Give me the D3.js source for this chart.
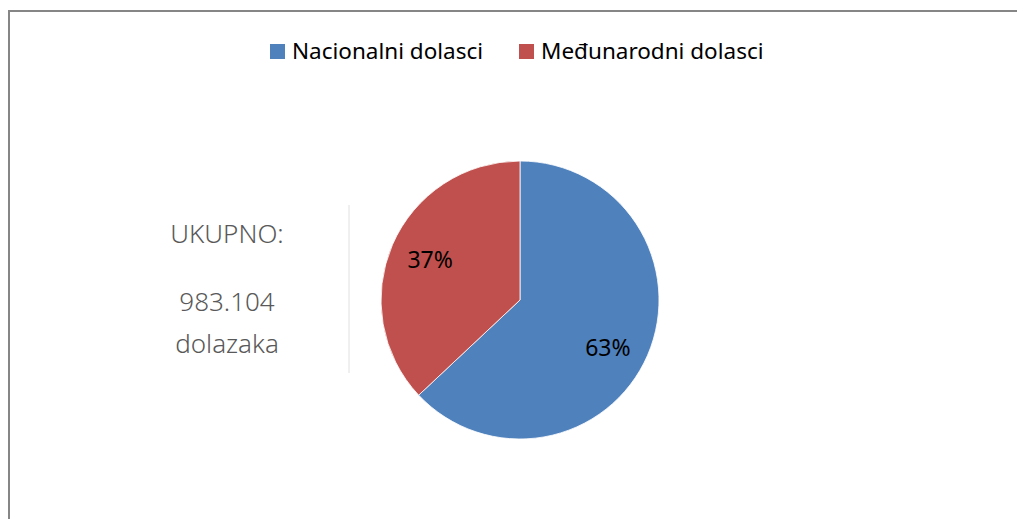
<!DOCTYPE html>
<html lang="hr">
<head>
    <meta charset="UTF-8">
    <title>Dolasci</title>
    <script src="https://cdn.jsdelivr.net/npm/d3@7/dist/d3.min.js"></script>
    <style>
        body { margin: 0; background: #fff; }
        svg text { font-family: "Noto Sans", "Open Sans", sans-serif; }
    </style>
</head>
<body>
<script>
    // podaci
    let kategorije = ['Nacionalni dolasci', 'Međunarodni dolasci'];
    let udjeli = [63, 37];
    let boje = ['#4f81bd', '#c0504d'];
    let ukupnoLinije = ['UKUPNO:', '983.104', 'dolazaka'];

    let width = 1017, height = 519;

    let svg = d3.select('body').append('svg')
        .attr('width', width)
        .attr('height', height);

    // okvir grafikona (desni i donji rub izlaze iz slike)
    svg.append('rect')
        .attr('x', 9)
        .attr('y', 11)
        .attr('width', width + 20)
        .attr('height', height + 20)
        .attr('fill', 'none')
        .attr('stroke', '#868686')
        .attr('stroke-width', 2);

    // legenda
    let legendX = [270, 519];
    let legend = svg.selectAll('g.legend')
        .data(kategorije)
        .enter().append('g')
        .attr('class', 'legend')
        .attr('transform', (d, i) => 'translate(' + legendX[i] + ',44)');
    legend.append('rect')
        .attr('width', 15).attr('height', 15)
        .attr('fill', (d, i) => boje[i]);
    legend.append('text')
        .attr('x', 22).attr('y', 15)
        .attr('font-size', 22.5)
        .attr('fill', '#000')
        .text(d => d);

    // pita
    let cx = 520, cy = 300, r = 139;
    let pie = d3.pie().sort(null).value(d => d);
    let arc = d3.arc().innerRadius(0).outerRadius(r);
    let labelArc = d3.arc().innerRadius(r * 0.72).outerRadius(r * 0.72);

    let g = svg.append('g').attr('transform', 'translate(' + cx + ',' + cy + ')');
    let slices = g.selectAll('g.slice')
        .data(pie(udjeli))
        .enter().append('g')
        .attr('class', 'slice');
    slices.append('path')
        .attr('d', arc)
        .attr('fill', (d, i) => boje[i])
        .attr('stroke', '#fff')
        .attr('stroke-width', 0.8);
    slices.append('text')
        .attr('transform', (d, i) => {
            let c = labelArc.centroid(d);
            let pomak = i === 0 ? [-4, 8] : [2, 0];
            return 'translate(' + (c[0] + pomak[0]) + ',' + (c[1] + pomak[1]) + ')';
        })
        .attr('text-anchor', 'middle')
        .attr('dy', '0.35em')
        .attr('font-size', 23)
        .attr('fill', '#000')
        .text(d => d.data + '%');

    // tekst lijevo
    svg.append('line')
        .attr('x1', 349).attr('x2', 349)
        .attr('y1', 205).attr('y2', 373)
        .attr('stroke', '#e0e0e0')
        .attr('stroke-width', 1);

    let yLinije = [243, 311, 353];
    svg.selectAll('text.ukupno')
        .data(ukupnoLinije)
        .enter().append('text')
        .attr('class', 'ukupno')
        .attr('x', 227)
        .attr('y', (d, i) => yLinije[i])
        .attr('text-anchor', 'middle')
        .attr('font-size', 26)
        .attr('font-weight', 300)
        .attr('fill', '#595959')
        .text(d => d);
</script>
</body>
</html>
